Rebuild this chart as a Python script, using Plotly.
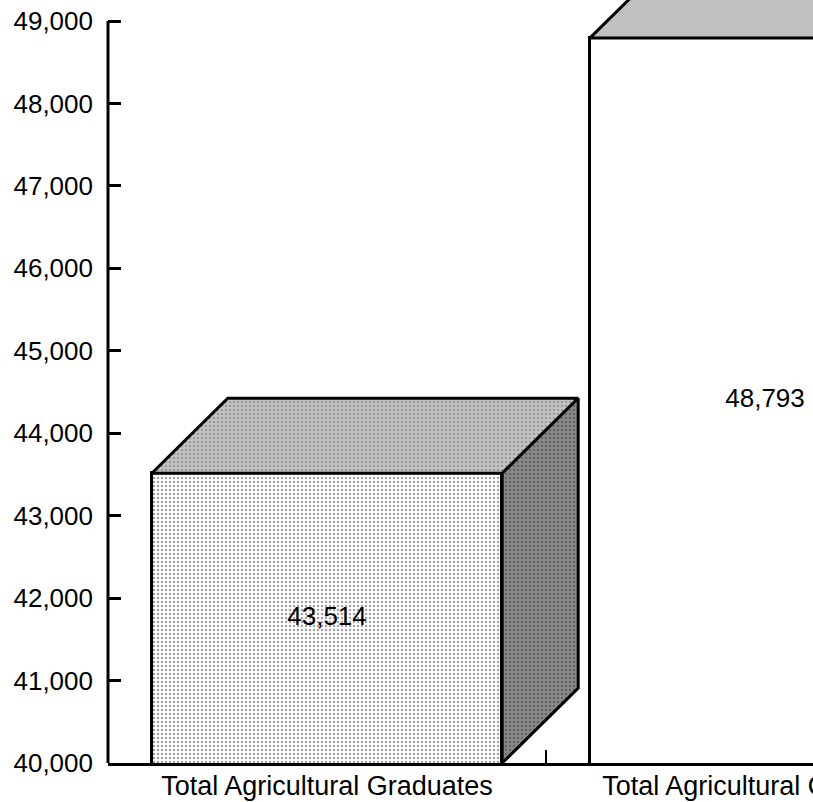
import plotly.graph_objects as go

# Data
categories = ["Total Agricultural Graduates", "Total Agricultural Operators"]
values = [43514, 48793]
y_tick_values = list(range(40000, 49001, 1000))
y_tick_labels = [f"{v:,}" for v in y_tick_values]

# Page / plot geometry
W, H = 813, 802
ML, MB = 108, 39
plot_w = W - ML
plot_h = H - MB
y_min, y_top_tick = 40000, 49000
px_per_y = 742 / (y_top_tick - y_min)
y_max = y_min + plot_h / px_per_y          # room above the top tick for the 3D tops
px_per_cat = 438
x_min = -0.5
x_max = x_min + plot_w / px_per_cat
bar_w = 0.8
depth_x = 76 / px_per_cat                  # 3D depth offset, in axis units
depth_y = 75 / px_per_y

FONT = "Arial, Liberation Sans, sans-serif"
LINE = dict(color="black", width=3)

# Face styles per category
front_bg = ["#ffffff", "#ffffff"]
front_shape = [".", ""]
top_bg = ["#c4c4c4", "#c0c0c0"]
top_shape = [".", ""]
side_bg = ["#8a8a8a", "#808080"]
side_shape = [".", ""]

fig = go.Figure()

# Front faces
fig.add_trace(go.Bar(
    x=list(range(len(categories))),
    y=values,
    width=bar_w,
    marker=dict(
        color=front_bg,
        line=LINE,
        pattern=dict(shape=front_shape, fgcolor="#6a6a6a", bgcolor=front_bg,
                     size=4, solidity=0.3, fillmode="overlay"),
    ),
    hoverinfo="skip",
    showlegend=False,
))

# Top and side faces of each box
for i, v in enumerate(values):
    x0, x1 = i - bar_w / 2, i + bar_w / 2
    top_x = [x0, x0 + depth_x, x1 + depth_x, x1, x0]
    top_y = [v, v + depth_y, v + depth_y, v, v]
    side_x = [x1, x1 + depth_x, x1 + depth_x, x1, x1]
    side_y = [v, v + depth_y, y_min + depth_y, y_min, v]
    for fx, fy, bg, shp, fg in [(top_x, top_y, top_bg[i], top_shape[i], "#6e6e6e"),
                                (side_x, side_y, side_bg[i], side_shape[i], "#404040")]:
        fig.add_trace(go.Scatter(
            x=fx, y=fy, mode="lines", fill="toself", fillcolor=bg,
            fillpattern=dict(shape=shp, fgcolor=fg, bgcolor=bg, size=4, solidity=0.3),
            line=LINE, hoverinfo="skip", showlegend=False,
        ))

# Value labels in the middle of each front face
fig.add_trace(go.Scatter(
    x=list(range(len(categories))),
    y=[(y_min + v) / 2 for v in values],
    mode="text",
    text=[f"{v:,}" for v in values],
    textfont=dict(family=FONT, size=26, color="black"),
    hoverinfo="skip",
    showlegend=False,
))

# Vertical axis line, from the bottom to the top tick only
fig.add_shape(type="line", xref="paper", yref="y", x0=0, x1=0,
              y0=y_min, y1=y_top_tick, line=dict(color="black", width=3))

fig.update_layout(
    width=W, height=H,
    margin=dict(l=ML, r=0, t=0, b=MB, pad=0),
    paper_bgcolor="white", plot_bgcolor="white",
    font=dict(family=FONT, size=26, color="black"),
    bargap=0,
    xaxis=dict(
        range=[x_min, x_max],
        tickvals=list(range(len(categories))),
        ticktext=categories,
        ticks="",
        showline=True, linecolor="black", linewidth=3,
        showgrid=False, zeroline=False,
        tickfont=dict(family=FONT, size=27),
        ticklabeloverflow="allow",
        ticklabelstandoff=-3,
        minor=dict(tickvals=[0.5], ticks="inside", ticklen=13, tickwidth=2,
                   tickcolor="black", showgrid=False),
        automargin=False,
    ),
    yaxis=dict(
        range=[y_min, y_max],
        tickvals=y_tick_values,
        ticktext=y_tick_labels,
        ticks="inside", ticklen=13, tickwidth=3, tickcolor="black",
        showline=False, showgrid=False, zeroline=False,
        tickfont=dict(family=FONT, size=26),
        ticklabelstandoff=14,
        automargin=False,
    ),
)

fig.write_html("out.html")
